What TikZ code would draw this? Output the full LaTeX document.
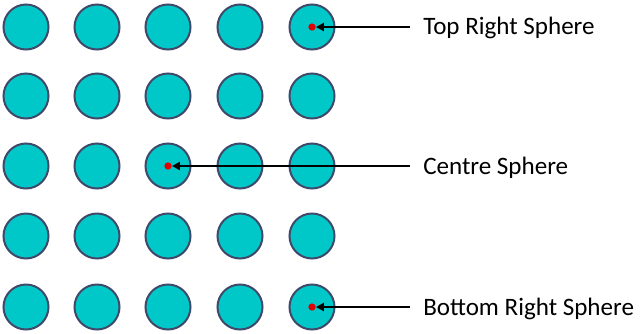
\documentclass[tikz,border=0pt]{standalone}
\usepackage{fontspec}
\setmainfont{Carlito}
\usetikzlibrary{arrows.meta}
\definecolor{ballfill}{HTML}{00C8C8}
\definecolor{balledge}{HTML}{3F4A6B}
\definecolor{dotred}{HTML}{E00000}
\tikzset{
  ball/.style={circle, fill=ballfill, draw=balledge, line width=1.5pt, minimum size=33.75pt, inner sep=0pt},
  reddot/.style={circle, fill=dotred, inner sep=0pt, minimum size=5.5pt},
  lbl/.style={anchor=west, inner sep=0pt, font=\fontsize{18.8}{22}\selectfont},
  pointer/.style={-{Triangle[length=6pt,width=6pt]}, line width=1.8pt, black, shorten >=0pt}
}
\begin{document}
\begin{tikzpicture}[x=0.75pt,y=-0.75pt]
\useasboundingbox (0,0) rectangle (640,333);
\foreach \r/\y in {1/27,2/96,3/166,4/236,5/307}{
  \foreach \c/\x in {1/26,2/97,3/168,4/240,5/312}{
    \node[ball] (c\r\c) at (\x,\y) {};
  }
}
\node[reddot] (d1) at (c15) {};
\node[reddot] (d3) at (c33) {};
\node[reddot] (d5) at (c55) {};
\node[lbl] (t1) at (423,28) {Top Right Sphere};
\node[lbl] (t3) at (423,168) {Centre Sphere};
\node[lbl] (t5) at (423,309) {Bottom Right Sphere};
\coordinate (s1) at ([xshift=-9.75pt]t1.west |- d1);
\coordinate (s3) at ([xshift=-9.75pt]t3.west |- d3);
\coordinate (s5) at ([xshift=-9.75pt]t5.west |- d5);
\draw[pointer] (s1) -- (d1);
\draw[pointer] (s3) -- (d3);
\draw[pointer] (s5) -- (d5);
\end{tikzpicture}
\end{document}
